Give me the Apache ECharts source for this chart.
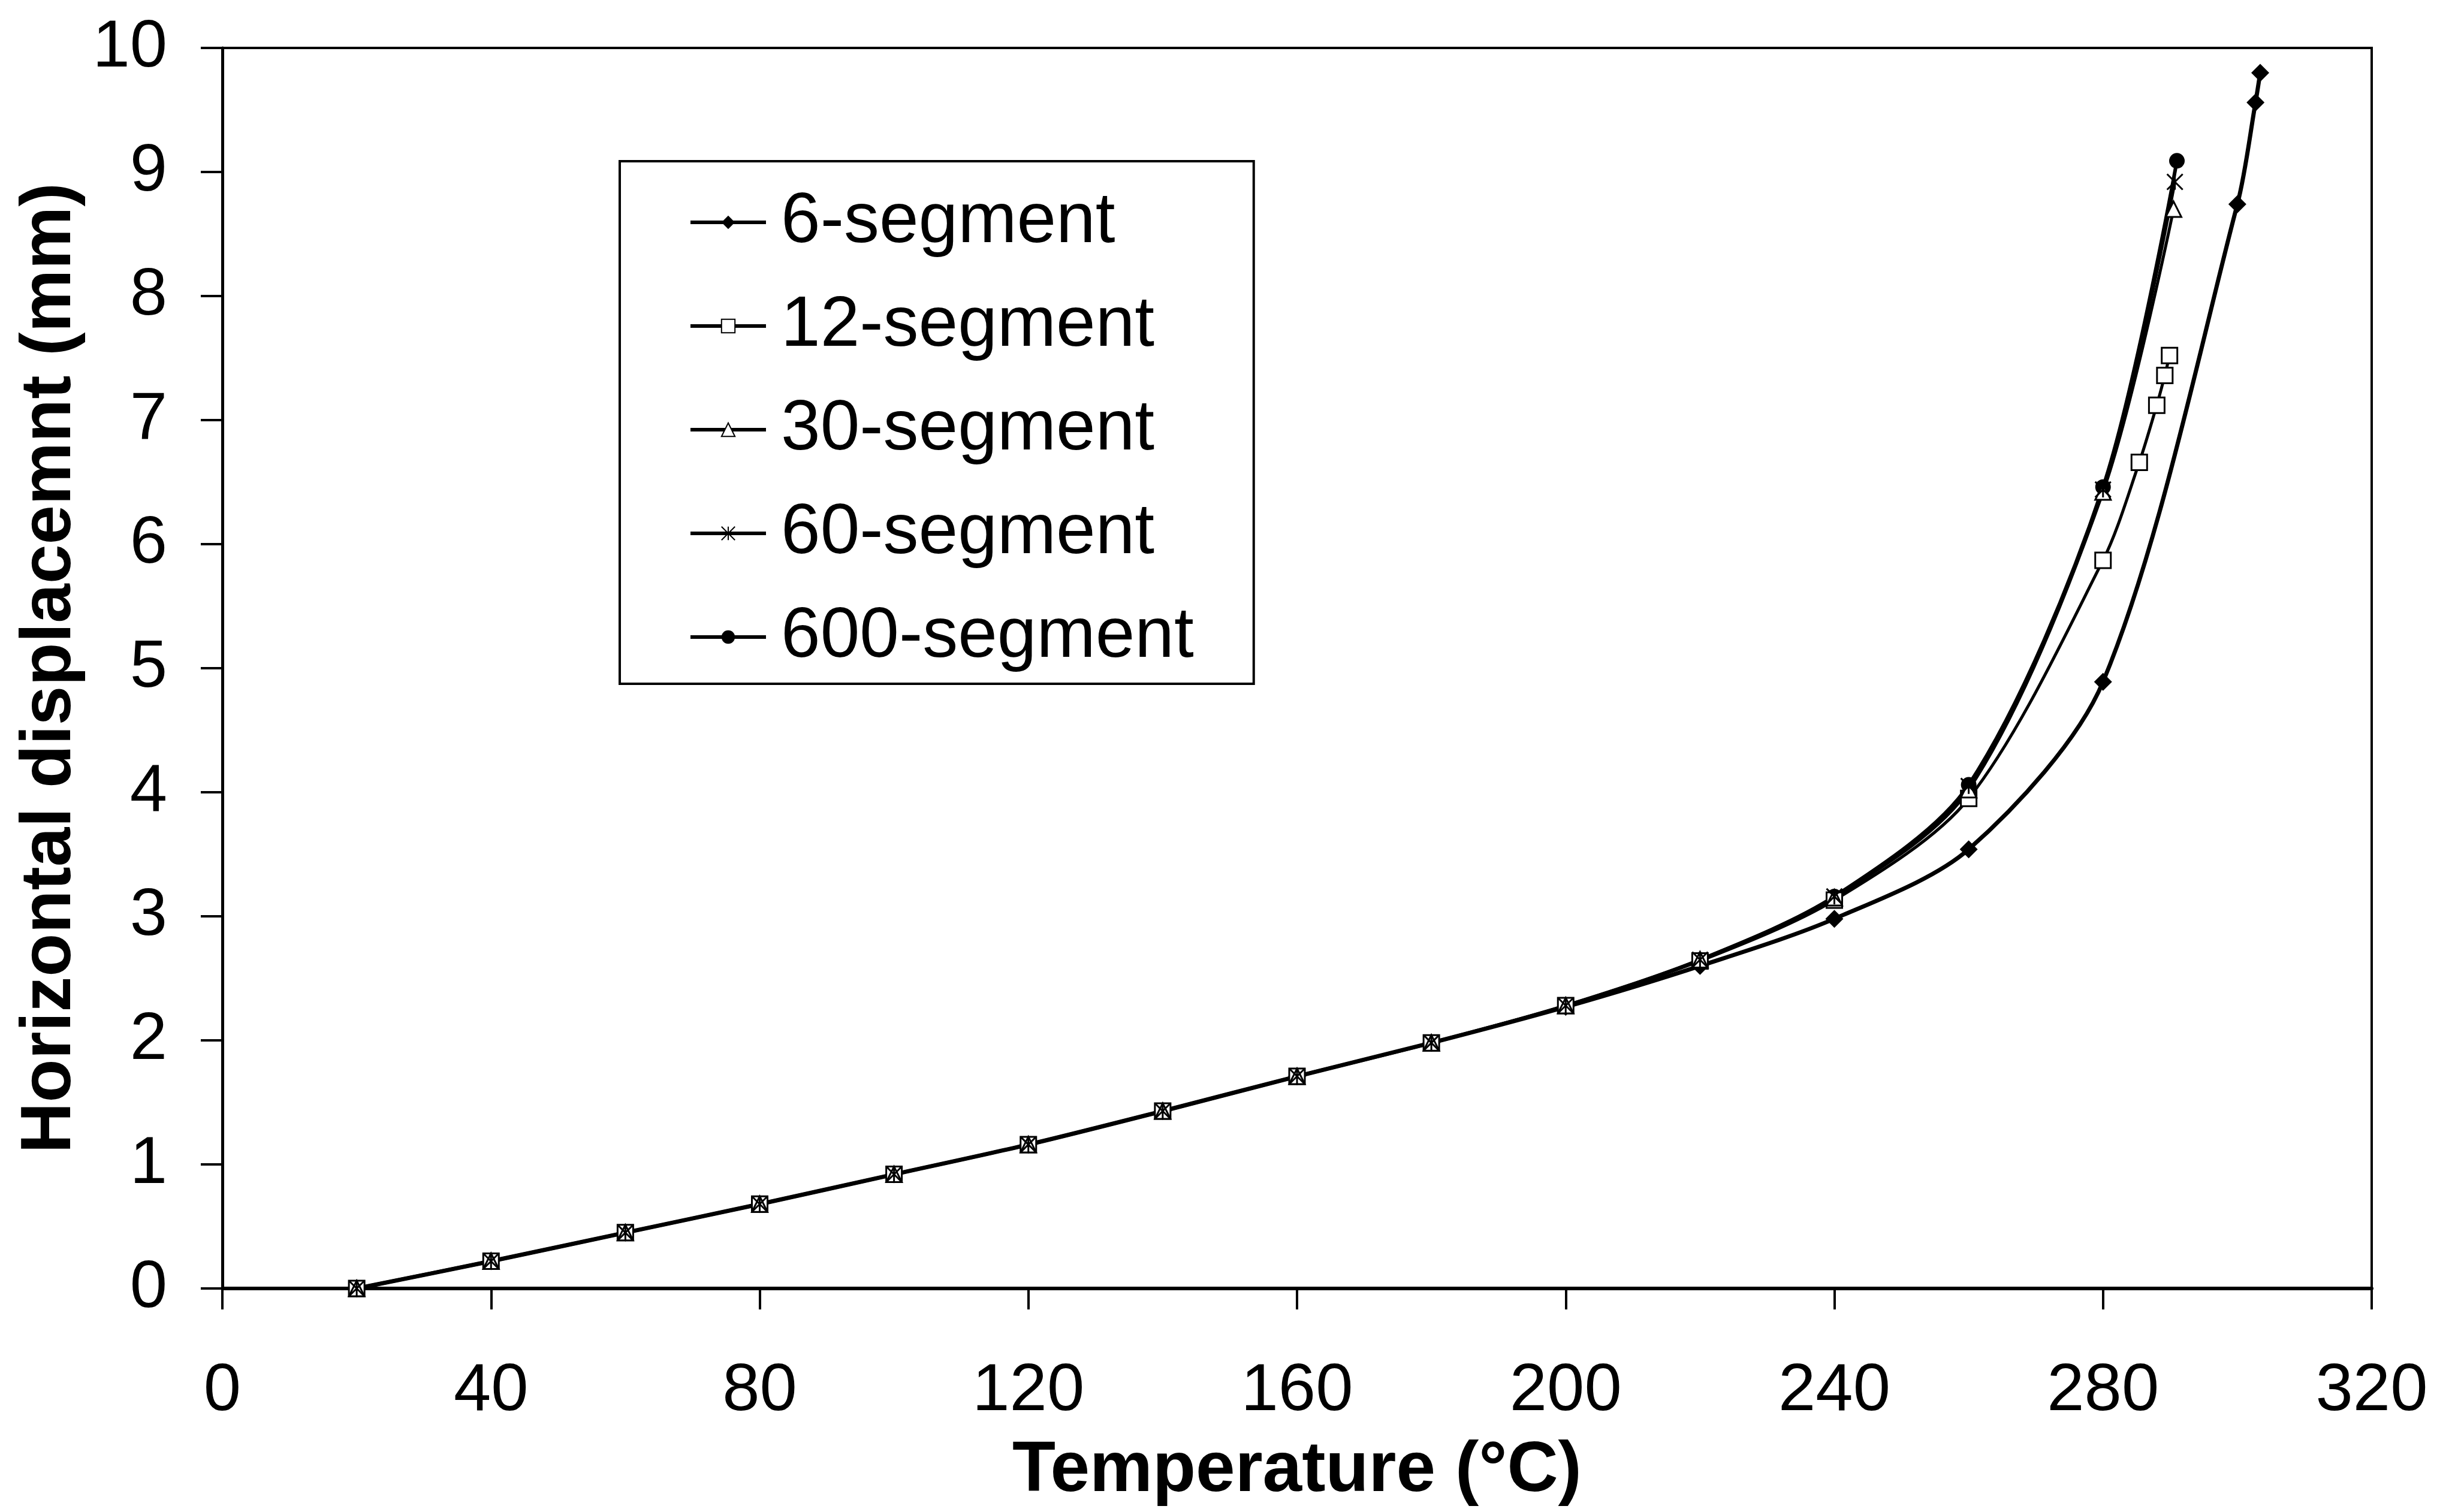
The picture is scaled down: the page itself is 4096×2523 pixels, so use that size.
<!DOCTYPE html>
<html>
<head>
<meta charset="utf-8">
<script src="https://cdn.jsdelivr.net/npm/echarts@6/dist/echarts.min.js"></script>
<style>
  html, body { margin: 0; padding: 0; background: #fff; }
  #chart { width: 4096px; height: 2523px; }
</style>
</head>
<body>
<div id="chart"></div>
<script>
// horizontal displacement vs temperature
const seg6Temps  = [20, 40, 60, 80, 100, 120, 140, 160, 180, 200, 220, 240, 260, 280, 300, 302.7, 303.4];
const seg6Disp   = [0, 0.22, 0.45, 0.68, 0.92, 1.16, 1.43, 1.71, 1.98, 2.27, 2.60, 2.98, 3.54, 4.89, 8.74, 9.56, 9.80];

const seg12Temps = [20, 40, 60, 80, 100, 120, 140, 160, 180, 200, 220, 240, 260, 280, 285.4, 288, 289.2, 289.9];
const seg12Disp  = [0, 0.22, 0.45, 0.68, 0.92, 1.16, 1.43, 1.71, 1.98, 2.28, 2.64, 3.13, 3.95, 5.87, 6.66, 7.12, 7.36, 7.52];

const seg30Temps = [20, 40, 60, 80, 100, 120, 140, 160, 180, 200, 220, 240, 260, 280, 290.5];
const seg30Disp  = [0, 0.22, 0.45, 0.68, 0.92, 1.16, 1.43, 1.71, 1.98, 2.28, 2.65, 3.15, 4.02, 6.42, 8.70];

const seg60Temps = [20, 40, 60, 80, 100, 120, 140, 160, 180, 200, 220, 240, 260, 280, 290.7];
const seg60Disp  = [0, 0.22, 0.45, 0.68, 0.92, 1.16, 1.43, 1.71, 1.98, 2.28, 2.65, 3.16, 4.05, 6.44, 8.92];

const seg600Temps = [20, 40, 60, 80, 100, 120, 140, 160, 180, 200, 220, 240, 260, 280, 291.0];
const seg600Disp  = [0, 0.22, 0.45, 0.68, 0.92, 1.16, 1.43, 1.71, 1.98, 2.28, 2.65, 3.16, 4.06, 6.46, 9.09];

const seriesNames = ['6-segment', '12-segment', '30-segment', '60-segment', '600-segment'];

const FONT = '"Liberation Sans", Arial, sans-serif';
const starPath = 'path://M0,0L10,10M10,0L0,10M5,0L5,10';

function pairs(xs, ys) {
    return xs.map((x, i) => [x, ys[i]]);
}

// filled markers go under the open ones, like the overlapped points in the figure
function makeSeries(name, xs, ys, symbol, size, filled, lineWidth) {
    return {
        name: name,
        type: 'line',
        data: pairs(xs, ys),
        smooth: 0.3,
        symbol: symbol,
        symbolSize: size,
        showAllSymbol: true,
        z: filled ? 2 : 3,
        lineStyle: { color: '#000', width: lineWidth },
        itemStyle: {
            color: filled ? '#000' : '#fff',
            borderColor: '#000',
            borderWidth: filled ? 0 : 3
        },
        emphasis: { disabled: true }
    };
}

const chart = echarts.init(document.getElementById('chart'), null, { renderer: 'canvas' });

const option = {
    animation: false,
    backgroundColor: '#fff',
    grid: {
        left: 371, right: 139, top: 80, bottom: 373,
        show: true, borderColor: '#000', borderWidth: 4, backgroundColor: 'transparent'
    },
    legend: {
        orient: 'vertical',
        left: 1034, top: 269,
        padding: [42, 100, 18, 115],
        itemGap: 53,
        itemWidth: 126,
        itemHeight: 28,
        borderColor: '#000',
        borderWidth: 4,
        backgroundColor: '#fff',
        data: seriesNames,
        lineStyle: { color: '#000', width: 6 },
        textStyle: { fontFamily: FONT, fontSize: 118, color: '#000', lineHeight: 120, padding: [0, 0, 0, 20] }
    },
    xAxis: {
        type: 'value',
        min: 0, max: 320, interval: 40,
        name: 'Temperature (°C)',
        nameLocation: 'middle',
        nameGap: 246,
        nameTextStyle: { fontFamily: FONT, fontSize: 118, fontWeight: 'bold', color: '#000' },
        axisLine: { show: true, onZero: false, lineStyle: { color: '#000', width: 6 } },
        axisTick: { show: true, inside: false, length: 35, lineStyle: { color: '#000', width: 4 } },
        axisLabel: { fontFamily: FONT, fontSize: 112, color: '#000', margin: 116 },
        splitLine: { show: false }
    },
    yAxis: {
        type: 'value',
        min: 0, max: 10, interval: 1,
        name: 'Horizontal displacemnt (mm)',
        nameLocation: 'middle',
        nameGap: 219,
        nameTextStyle: { fontFamily: FONT, fontSize: 118, fontWeight: 'bold', color: '#000' },
        axisLine: { show: true, onZero: false, lineStyle: { color: '#000', width: 5 } },
        axisTick: { show: true, inside: false, length: 36, lineStyle: { color: '#000', width: 4 } },
        axisLabel: { fontFamily: FONT, fontSize: 112, color: '#000', margin: 92 },
        splitLine: { show: false }
    },
    series: [
        makeSeries(seriesNames[0], seg6Temps, seg6Disp, 'diamond', 30, true, 7),
        makeSeries(seriesNames[1], seg12Temps, seg12Disp, 'rect', 26, false, 5),
        makeSeries(seriesNames[2], seg30Temps, seg30Disp, 'triangle', 26, false, 5),
        makeSeries(seriesNames[3], seg60Temps, seg60Disp, starPath, 26, false, 5),
        makeSeries(seriesNames[4], seg600Temps, seg600Disp, 'circle', 26, true, 6)
    ]
};

chart.setOption(option);
</script>
</body>
</html>
